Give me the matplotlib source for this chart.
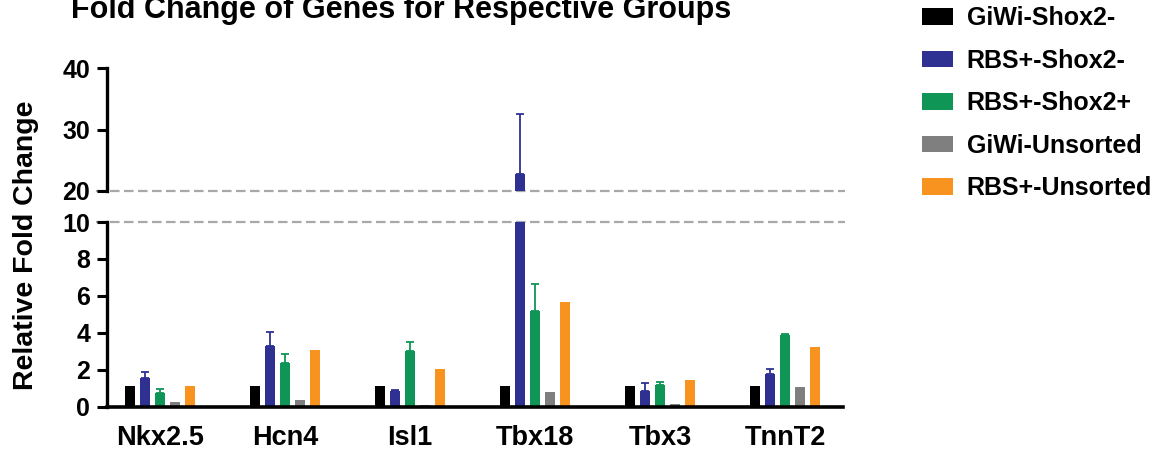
import numpy as np
import matplotlib
matplotlib.use("Agg")
import matplotlib.pyplot as plt

plt.rcParams['font.family'] = ['Liberation Sans', 'DejaVu Sans']
plt.rcParams['font.weight'] = 'bold'

genes = ["Nkx2.5", "Hcn4", "Isl1", "Tbx18", "Tbx3", "TnnT2"]
groups = ["GiWi-Shox2-", "RBS+-Shox2-", "RBS+-Shox2+", "GiWi-Unsorted", "RBS+-Unsorted"]
colores = ["#000000", "#2E3192", "#0F9556", "#7F7F7F", "#F7931E"]

# media e erro (so para cima) de cada grupo, por gene
giwi_shox2_neg = [1.1, 1.1, 1.1, 1.1, 1.1, 1.1]
rbs_shox2_neg = [1.55, 3.3, 0.85, 22.7, 0.85, 1.75]
rbs_shox2_pos = [0.72, 2.37, 3.0, 5.2, 1.17, 3.85]
giwi_unsorted = [0.25, 0.35, 0.1, 0.78, 0.15, 1.08]
rbs_unsorted = [1.1, 3.05, 2.05, 5.65, 1.45, 3.22]

err_giwi_shox2_neg = [0, 0, 0, 0, 0, 0]
err_rbs_shox2_neg = [0.32, 0.72, 0.05, 9.9, 0.42, 0.28]
err_rbs_shox2_pos = [0.22, 0.47, 0.48, 1.45, 0.14, 0.1]
err_giwi_unsorted = [0, 0, 0, 0, 0, 0]
err_rbs_unsorted = [0, 0, 0, 0, 0, 0]

valores = [giwi_shox2_neg, rbs_shox2_neg, rbs_shox2_pos, giwi_unsorted, rbs_unsorted]
erros = [err_giwi_shox2_neg, err_rbs_shox2_neg, err_rbs_shox2_pos,
         err_giwi_unsorted, err_rbs_unsorted]

fig = plt.figure(figsize=(11.67, 4.54), dpi=100)
ax_baixo = fig.add_axes([0.0917, 0.1046, 0.6307, 0.4064])
ax_cima = fig.add_axes([0.0917, 0.5793, 0.6307, 0.2709])

x = np.arange(len(genes))
largura = 0.08
passo = 0.12

for ax in (ax_baixo, ax_cima):
    for k, (vals, errs, cor) in enumerate(zip(valores, erros, colores)):
        pos = x + (k - 2) * passo
        ax.bar(pos, vals, width=largura, color=cor, label=groups[k], zorder=2)
        tem_erro = np.array(errs) > 0
        ax.errorbar(pos[tem_erro], np.array(vals)[tem_erro],
                    yerr=[np.zeros(tem_erro.sum()), np.array(errs)[tem_erro]],
                    fmt="none", ecolor=cor, elinewidth=1.3, capsize=3,
                    capthick=1.3, zorder=3)
    ax.set_xlim(-0.424, 5.464)
    for lado in ("top", "right"):
        ax.spines[lado].set_visible(False)
    ax.spines["left"].set_linewidth(2.4)
    ax.tick_params(axis="y", length=7, width=2.2, labelsize=18, pad=5)

ax_baixo.set_ylim(0, 10)
ax_baixo.set_yticks([0, 2, 4, 6, 8, 10])
ax_baixo.spines["bottom"].set_linewidth(2.6)
ax_baixo.set_xticks(x)
ax_baixo.set_xticklabels(genes, fontsize=19.5, fontweight="bold")
ax_baixo.tick_params(axis="x", length=0, pad=13)

ax_cima.set_ylim(20, 40)
ax_cima.set_yticks([20, 30, 40])
ax_cima.spines["bottom"].set_visible(False)
ax_cima.set_xticks([])

# linhas tracejadas marcando a quebra do eixo
for ax, nivel in ((ax_cima, 20), (ax_baixo, 10)):
    ax.axhline(nivel, xmin=-0.015, xmax=1.003, color="#A8A8A8", lw=1.6,
               dashes=(4.3, 2.0), clip_on=False, zorder=1)

fig.text(0.3436, 1 - 18 / 454, "Fold Change of Genes for Respective Groups",
         ha="center", va="baseline", fontsize=22, fontweight="bold")
fig.text(0.0223, 0.4604, "Relative Fold Change", rotation=90,
         ha="center", va="center", fontsize=20.5, fontweight="bold")

handles, labels = ax_baixo.get_legend_handles_labels()
fig.legend(handles, labels, loc="upper left", bbox_to_anchor=(0.7813, 1.0086),
           frameon=False, fontsize=18, handlelength=1.24, handleheight=0.64,
           handletextpad=0.56, labelspacing=0.74, borderaxespad=0)

plt.savefig("out.png", dpi=100)
